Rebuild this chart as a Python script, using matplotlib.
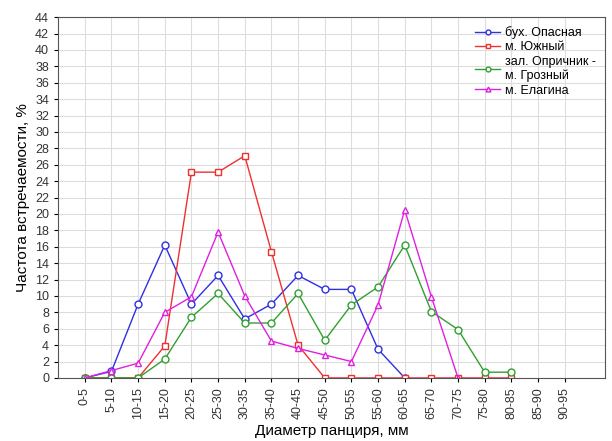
import numpy as np
import matplotlib.pyplot as plt

plt.rcParams['font.family'] = ['Liberation Sans', 'DejaVu Sans']

# size classes, mm
classes = ['0-5', '5-10', '10-15', '15-20', '20-25', '25-30', '30-35', '35-40',
           '40-45', '45-50', '50-55', '55-60', '60-65', '65-70', '70-75',
           '75-80', '80-85', '85-90', '90-95']

# frequency, %
opasnaya = [0, 0.8, 9.0, 16.2, 9.0, 12.5, 7.2, 9.0, 12.5, 10.8, 10.8, 3.5, 0]
yuzhny = [0, 0, 0, 3.9, 25.1, 25.1, 27.1, 15.4, 4.0, 0, 0, 0, 0, 0, 0, 0, 0]
oprichnik = [0, 0, 0, 2.3, 7.4, 10.3, 6.7, 6.7, 10.3, 4.6, 8.9, 11.1, 16.2,
             8.1, 5.9, 0.7, 0.7]
elagina = [0, 0.9, 1.8, 8.0, 9.9, 17.8, 10.0, 4.5, 3.6, 2.8, 2.0, 8.9, 20.5,
           9.9, 0]

fig, ax = plt.subplots(figsize=(6.12, 4.41), dpi=100)
fig.subplots_adjust(left=0.095, right=0.988, bottom=0.143, top=0.961)

ax.plot(range(len(opasnaya)), opasnaya, color='#3030e0', marker='o', ms=5,
        mfc='white', lw=1, label='бух. Опасная')
ax.plot(range(len(yuzhny)), yuzhny, color='#f03030', marker='s', ms=5,
        mfc='white', lw=1, label='м. Южный')
ax.plot(range(len(oprichnik)), oprichnik, color='#30a030', marker='o', ms=5,
        mfc='white', lw=1, label='зал. Опричник -\nм. Грозный')
ax.plot(range(len(elagina)), elagina, color='#e020e0', marker='^', ms=5,
        mfc='white', lw=1, label='м. Елагина')

ax.set_xlim(-1, 19.5)
ax.set_ylim(0, 44)
ax.set_yticks(np.arange(0, 45, 2))
ax.set_xticks(range(len(classes)))
ax.set_xticklabels(classes, rotation=90, fontsize=9, color='#333333')
ax.tick_params(axis='y', labelsize=9, labelcolor='#333333', length=3)
ax.tick_params(axis='x', length=3)
ax.grid(True, color='#dddddd', lw=0.8)
ax.set_axisbelow(True)
for s in ax.spines.values():
    s.set_color('#555555')

ax.set_xlabel('Диаметр панциря, мм', fontsize=11)
ax.set_ylabel('Частота встречаемости, %', fontsize=11)

leg = ax.legend(loc='upper right', frameon=False, fontsize=9, handlelength=2,
                handletextpad=0.4, labelspacing=0.2, markerscale=0.7,
                borderaxespad=0.3)

fig.savefig('out.png')
